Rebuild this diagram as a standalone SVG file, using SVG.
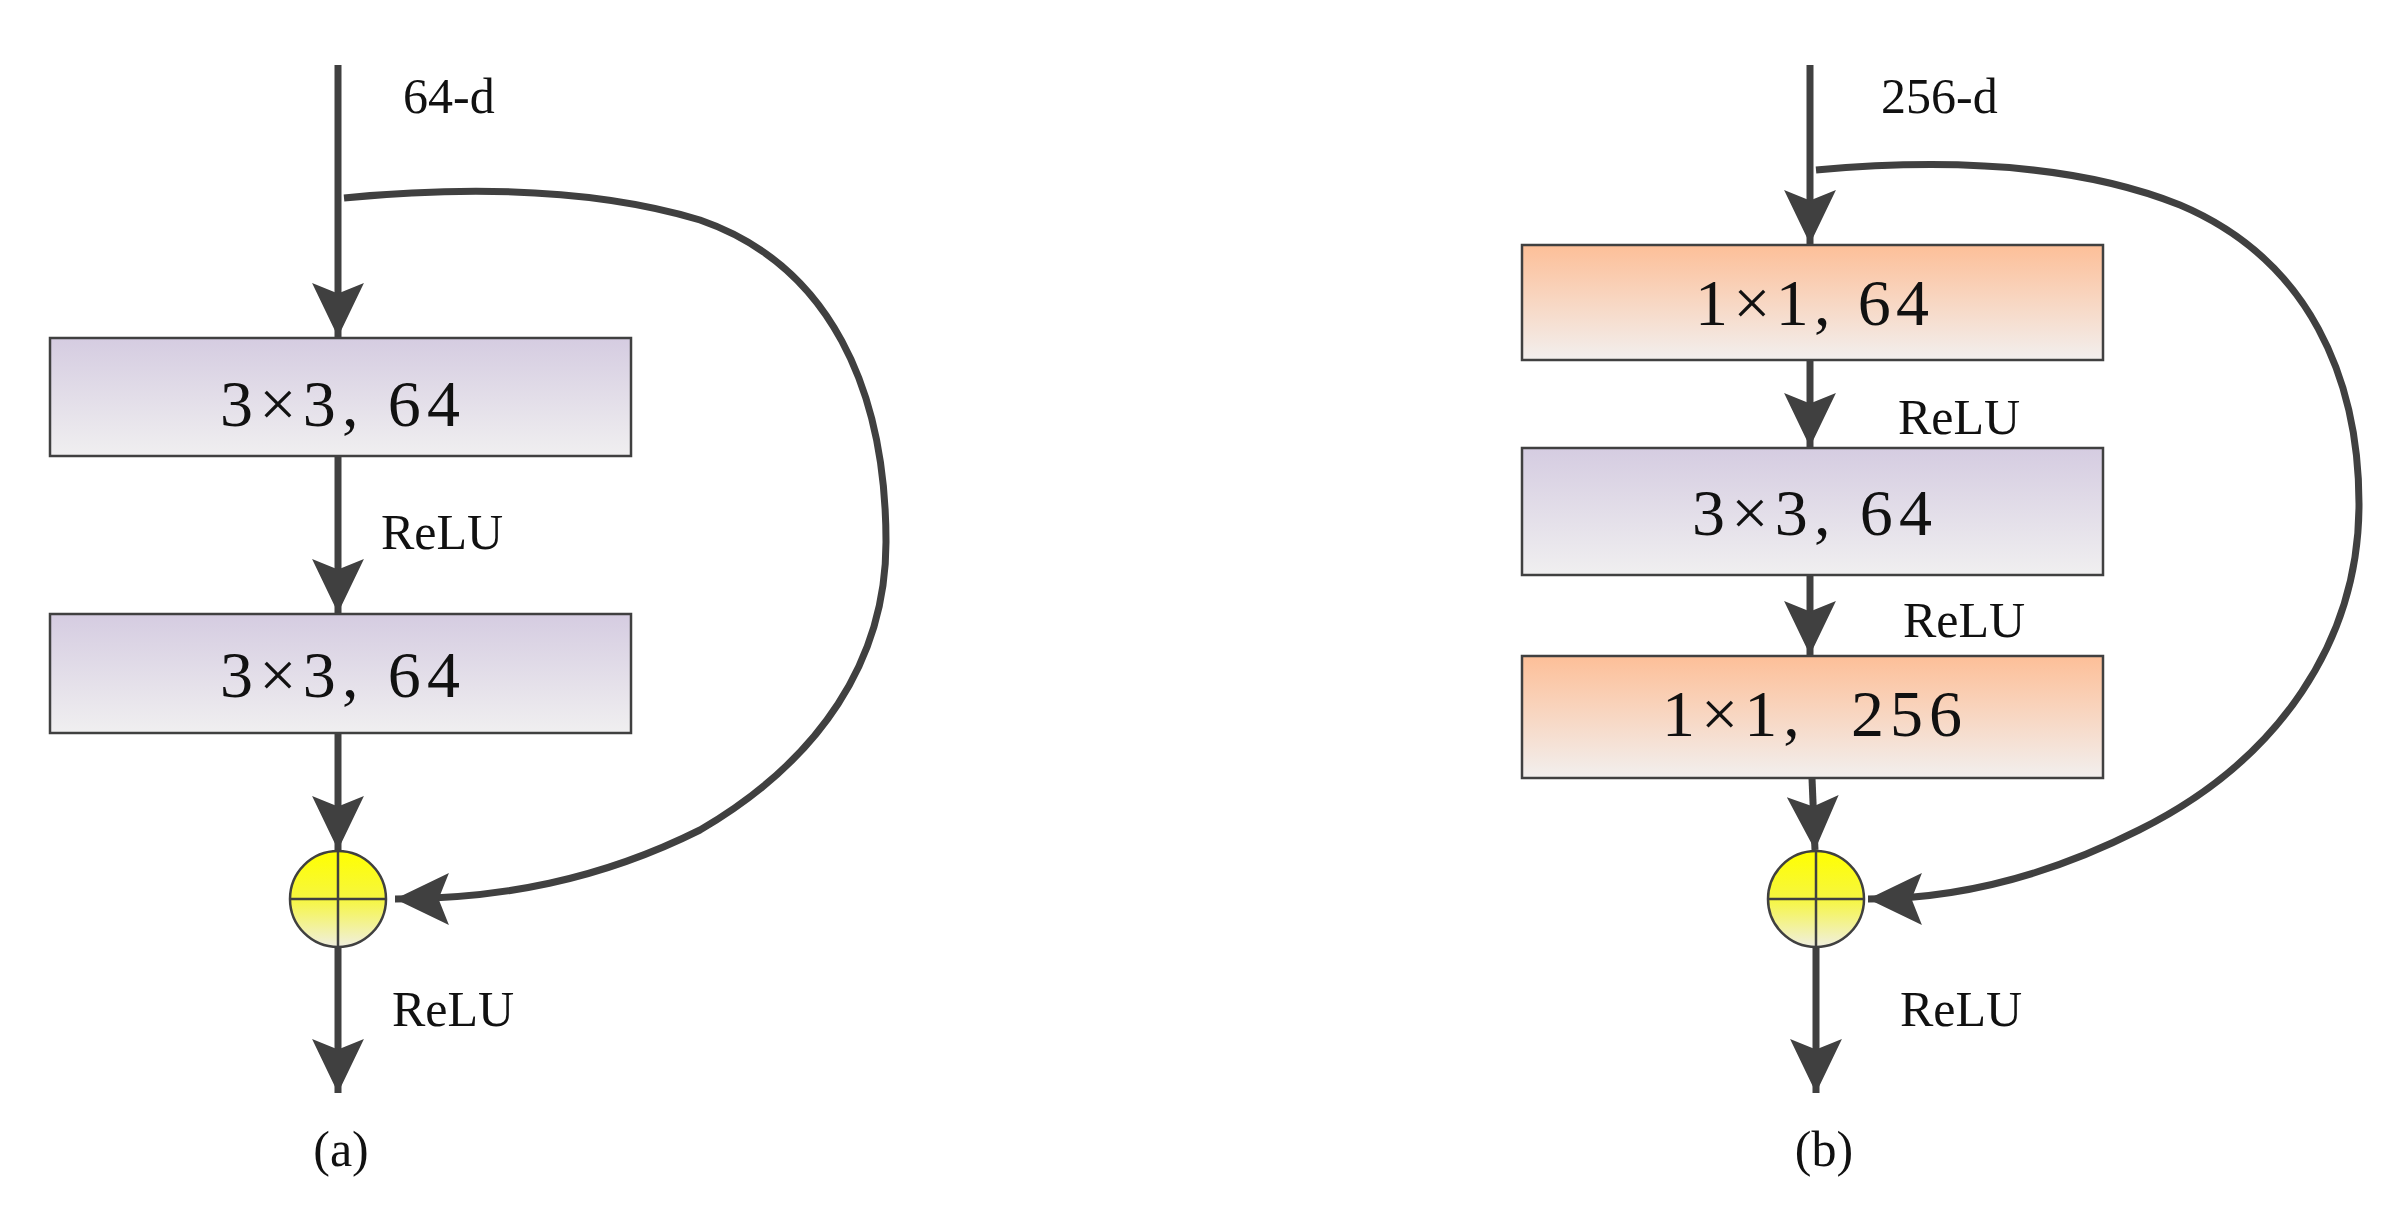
<svg xmlns="http://www.w3.org/2000/svg" width="2405" height="1209" viewBox="0 0 2405 1209">
<style>
.ln{stroke:#404040;stroke-width:7;fill:none}
.bx{stroke:#404040;stroke-width:2.5}
.t{font-family:"Liberation Serif","DejaVu Serif",serif;fill:#111}
.big{font-size:66px;text-anchor:middle}
.sm{font-size:50px}
</style>
<defs>
<linearGradient id="pur" x1="0" y1="0" x2="0" y2="1"><stop offset="0" stop-color="#d5cce1"/><stop offset="1" stop-color="#f0eff0"/></linearGradient>
<linearGradient id="org" x1="0" y1="0" x2="0" y2="1"><stop offset="0" stop-color="#fdbf98"/><stop offset="1" stop-color="#f2efee"/></linearGradient>
<linearGradient id="yel" x1="0" y1="0" x2="0" y2="1"><stop offset="0" stop-color="#ffff00"/><stop offset="0.5" stop-color="#f6f640"/><stop offset="1" stop-color="#f0efe0"/></linearGradient>
<marker id="ah" markerUnits="userSpaceOnUse" markerWidth="56" markerHeight="54" viewBox="0 0 54 52" refX="52" refY="26" orient="auto"><path d="M0,1 L52,26 L0,51 L10,26 Z" fill="#404040"/></marker>
</defs>
<g id="connectors">
<line class="ln" x1="338" y1="65" x2="338" y2="337" marker-end="url(#ah)"/>
<line class="ln" x1="338" y1="456" x2="338" y2="613" marker-end="url(#ah)"/>
<line class="ln" x1="338" y1="733" x2="338" y2="850" marker-end="url(#ah)"/>
<line class="ln" x1="338" y1="947" x2="338" y2="1093" marker-end="url(#ah)"/>
<path class="ln" d="M344,198 C480,185 600,190 700,220 C830,265 886,390 886,542 C886,660 820,760 700,830 C600,880 500,899 395,899" marker-end="url(#ah)"/>
<line class="ln" x1="1810" y1="65" x2="1810" y2="244" marker-end="url(#ah)"/>
<line class="ln" x1="1810" y1="360" x2="1810" y2="447" marker-end="url(#ah)"/>
<line class="ln" x1="1810" y1="575" x2="1810" y2="655" marker-end="url(#ah)"/>
<line class="ln" x1="1812" y1="778" x2="1815" y2="850" marker-end="url(#ah)"/>
<line class="ln" x1="1816" y1="947" x2="1816" y2="1093" marker-end="url(#ah)"/>
<path class="ln" d="M1816,170 C1950,158 2080,165 2180,205 C2310,260 2359,380 2359,504 C2359,640 2280,760 2139,830 C2050,875 1960,899 1868,899" marker-end="url(#ah)"/>
</g>
<g id="a-box1"><rect class="bx" x="50" y="338" width="581" height="118" fill="url(#pur)"/><text class="t big" x="340" y="426" textLength="240">3×3, 64</text></g>
<g id="a-box2"><rect class="bx" x="50" y="614" width="581" height="119" fill="url(#pur)"/><text class="t big" x="340" y="697" textLength="240">3×3, 64</text></g>
<g id="a-sum"><circle class="bx" cx="338" cy="899" r="48" fill="url(#yel)"/><line class="bx" x1="290" y1="899" x2="386" y2="899"/><line class="bx" x1="338" y1="851" x2="338" y2="947"/></g>
<g id="a-labels">
<text class="t sm" x="403" y="113">64-d</text>
<text class="t sm" x="381" y="549">ReLU</text>
<text class="t sm" x="392" y="1026">ReLU</text>
<text class="t sm" x="341" y="1166" text-anchor="middle">(a)</text>
</g>
<g id="b-box1"><rect class="bx" x="1522" y="245" width="581" height="115" fill="url(#org)"/><text class="t big" x="1812" y="325" textLength="234">1×1, 64</text></g>
<g id="b-box2"><rect class="bx" x="1522" y="448" width="581" height="127" fill="url(#pur)"/><text class="t big" x="1812" y="535" textLength="240">3×3, 64</text></g>
<g id="b-box3"><rect class="bx" x="1522" y="656" width="581" height="122" fill="url(#org)"/><text class="t big" x="1812" y="736" textLength="300" xml:space="preserve">1×1,  256</text></g>
<g id="b-sum"><circle class="bx" cx="1816" cy="899" r="48" fill="url(#yel)"/><line class="bx" x1="1768" y1="899" x2="1864" y2="899"/><line class="bx" x1="1816" y1="851" x2="1816" y2="947"/></g>
<g id="b-labels">
<text class="t sm" x="1881" y="113">256-d</text>
<text class="t sm" x="1898" y="434">ReLU</text>
<text class="t sm" x="1903" y="637">ReLU</text>
<text class="t sm" x="1900" y="1026">ReLU</text>
<text class="t sm" x="1824" y="1166" text-anchor="middle">(b)</text>
</g>
</svg>
